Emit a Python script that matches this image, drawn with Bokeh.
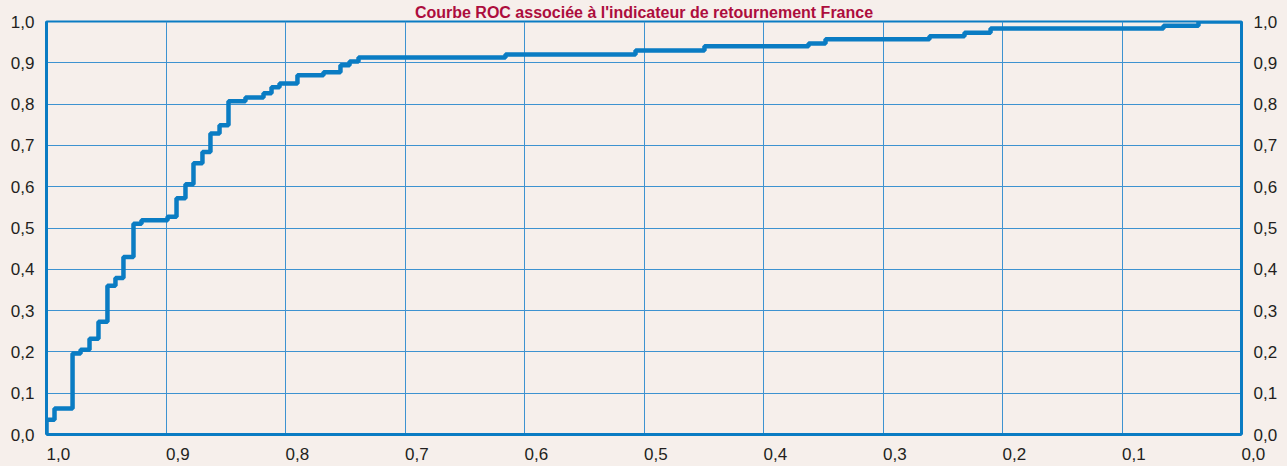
from bokeh.plotting import figure
from bokeh.models import Range1d, FixedTicker, CustomJSTickFormatter, LinearAxis
from bokeh.embed import file_html
from bokeh.resources import INLINE

TITLE = "Courbe ROC associée à l'indicateur de retournement France"

# x: threshold axis (reversed, 1 -> 0), y: sensitivity
spec = [1.0, 1.0, 0.9933, 0.9782, 0.9715, 0.964, 0.9565, 0.949, 0.9423, 0.9356,
        0.9272, 0.9205, 0.8987, 0.8912, 0.8837, 0.877, 0.8695, 0.8628, 0.8552,
        0.8477, 0.8335, 0.8184, 0.8117, 0.805, 0.79, 0.7682, 0.754, 0.7464,
        0.7389, 0.6159, 0.5071, 0.4494, 0.3623, 0.3481, 0.2611, 0.2318, 0.21,
        0.0653, 0.036, 0.0]
sens = [0.0, 0.036, 0.063, 0.196, 0.205, 0.232, 0.273, 0.36, 0.379, 0.43,
        0.51, 0.519, 0.527, 0.572, 0.606, 0.657, 0.684, 0.729, 0.749,
        0.807, 0.816, 0.826, 0.841, 0.85, 0.87, 0.877, 0.894, 0.903,
        0.913, 0.92, 0.93, 0.94, 0.947, 0.957, 0.964, 0.973, 0.983,
        0.99, 1.0, 1.0]

TICKS = [0.0, 0.1, 0.2, 0.3, 0.4, 0.5, 0.6, 0.7, 0.8, 0.9, 1.0]

BG = "#f6efeb"
BLUE = "#0a7cc3"
GRID = "#3d92d0"
TXT = "#231f20"
TITLE_COLOR = "#ad0d3d"
FONT = "Liberation Sans"

p = figure(width=1287, height=466, output_backend="svg", toolbar_location=None,
           x_range=Range1d(1.0, 0.0), y_range=Range1d(0.0, 1.0),
           min_border_left=46, min_border_right=46, min_border_top=21,
           min_border_bottom=31,
           background_fill_color=BG, border_fill_color=BG,
           outline_line_color=BLUE, outline_line_width=2)

p.title.text = TITLE
p.title.align = "center"
p.title.text_font = FONT
p.title.text_font_style = "bold"
p.title.text_font_size = "16px"
p.title.text_color = TITLE_COLOR
p.title.standoff = 2
p.title.offset = 0

fmt = CustomJSTickFormatter(code="return tick.toFixed(1).replace('.', ',');")
# bottom labels start at their tick: pad with invisible figure/punctuation spaces
fmt_left = CustomJSTickFormatter(
    code="return '\\u2007\\u2007\\u2008' + tick.toFixed(1).replace('.', ',');")

def style_axis(ax, standoff, formatter):
    ax.ticker = FixedTicker(ticks=TICKS)
    ax.formatter = formatter
    ax.major_tick_in = 0
    ax.major_tick_out = 0
    ax.minor_tick_in = 0
    ax.minor_tick_out = 0
    ax.axis_line_color = BLUE
    ax.axis_line_width = 3
    ax.major_label_text_font = FONT
    ax.major_label_text_font_size = "17px"
    ax.major_label_text_color = TXT
    ax.major_label_standoff = standoff

style_axis(p.xaxis[0], 10, fmt_left)
style_axis(p.yaxis[0], 12, fmt)

right = LinearAxis()
style_axis(right, 12, fmt)
p.add_layout(right, "right")

for g in (p.xgrid[0], p.ygrid[0]):
    g.ticker = FixedTicker(ticks=TICKS)
    g.grid_line_color = GRID
    g.grid_line_width = 1

p.step(spec, sens, mode="after", line_color=BLUE, line_width=4.5)

TEMPLATE = """{% block preamble %}<style>html, body {margin:0 !important; padding:0 !important; background:#f6efeb !important; overflow:hidden;}</style>{% endblock %}"""

open("out.html", "w").write(file_html(p, INLINE, title="ROC", template=TEMPLATE))
